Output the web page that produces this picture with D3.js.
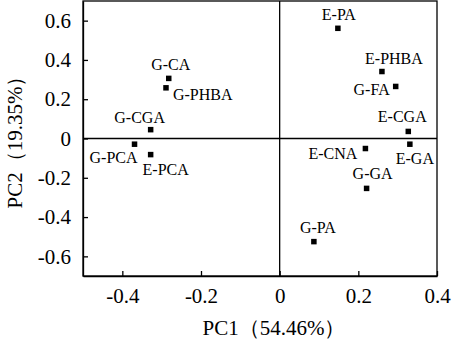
<!DOCTYPE html>
<html>
<head>
<meta charset="utf-8">
<script src="https://cdn.jsdelivr.net/npm/d3@7"></script>
<style>
  body { margin: 0; background: #fff; }
  text { font-family: "Liberation Serif", "Times New Roman", serif; fill: #000; }
</style>
</head>
<body>
<div id="chart"></div>
<script>
var w = 452;
var h = 344;

// data
var names = ["E-PA", "E-PHBA", "G-FA", "E-CGA", "E-GA", "E-CNA", "G-GA", "G-PA",
             "G-CA", "G-PHBA", "G-CGA", "G-PCA", "E-PCA"];
var pc1 = [0.148, 0.260, 0.295, 0.327, 0.331, 0.218, 0.221, 0.087,
           -0.282, -0.289, -0.328, -0.369, -0.328];
var pc2 = [0.561, 0.341, 0.265, 0.036, -0.029, -0.051, -0.254, -0.525,
           0.306, 0.258, 0.045, -0.029, -0.082];
var xTicks = [-0.4, -0.2, 0, 0.2, 0.4];
var yTicks = [-0.6, -0.4, -0.2, 0, 0.2, 0.4, 0.6];
var xTitle = "PC1（54.46%）";
var yTitle = "PC2（19.35%）";

// label placement relative to the point (px)
var labelPos = {
  "E-PA":   [1, -8, "middle"],
  "E-PHBA": [12, -8, "middle"],
  "G-FA":   [-6, 9, "end"],
  "E-CGA":  [-6, -9, "middle"],
  "E-GA":   [5, 20, "middle"],
  "E-CNA":  [-8, 10, "end"],
  "G-GA":   [6, -9, "middle"],
  "G-PA":   [4, -9, "middle"],
  "G-CA":   [2, -8, "middle"],
  "G-PHBA": [7, 12, "start"],
  "G-CGA":  [-11, -7, "middle"],
  "G-PCA":  [3, 19, "end"],
  "E-PCA":  [15, 20, "middle"]
};

var mLeft = 83, mRight = 437, mTop = 1, mBottom = 276;

var xScale = d3.scaleLinear().domain([-0.5, 0.4]).range([mLeft, mRight]);
var yScale = d3.scaleLinear().domain([-0.7, 0.7]).range([mBottom, mTop]);

var fmt = function(d) { return d === 0 ? "0" : d.toFixed(1); };

var svg = d3.select("#chart").append("svg")
  .attr("width", w)
  .attr("height", h);

// frame
svg.append("rect")
  .attr("x", mLeft).attr("y", mTop)
  .attr("width", mRight - mLeft).attr("height", mBottom - mTop)
  .attr("fill", "none").attr("stroke", "#000").attr("stroke-width", 1.3);

// zero lines
svg.append("line")
  .attr("x1", xScale(0)).attr("x2", xScale(0))
  .attr("y1", mTop).attr("y2", mBottom)
  .attr("stroke", "#000").attr("stroke-width", 1.3);
svg.append("line")
  .attr("x1", mLeft).attr("x2", mRight)
  .attr("y1", yScale(0)).attr("y2", yScale(0))
  .attr("stroke", "#000").attr("stroke-width", 1.3);

// axes
var xAxis = d3.axisBottom(xScale).tickValues(xTicks).tickFormat(fmt)
  .tickSizeInner(-5).tickSizeOuter(0).tickPadding(8);
var yAxis = d3.axisLeft(yScale).tickValues(yTicks).tickFormat(fmt)
  .tickSizeInner(-5).tickSizeOuter(0).tickPadding(12);

var gx = svg.append("g")
  .attr("transform", "translate(0," + mBottom + ")")
  .call(xAxis);
var gy = svg.append("g")
  .attr("transform", "translate(" + mLeft + ",0)")
  .call(yAxis);

[gx, gy].forEach(function(g) {
  g.select(".domain").attr("stroke", "#000").attr("stroke-width", 1.3);
  g.selectAll(".tick line").attr("stroke", "#000").attr("stroke-width", 1.3);
  g.selectAll(".tick text")
    .attr("font-family", "'Liberation Serif', serif")
    .attr("font-size", "21px")
    .attr("fill", "#000");
});
gx.selectAll(".tick text").attr("dy", "0.9em");

// axis titles
svg.append("text")
  .attr("x", 274).attr("y", 335)
  .attr("text-anchor", "middle")
  .attr("font-size", "21px")
  .text(xTitle);

svg.append("text")
  .attr("transform", "translate(22,137) rotate(-90)")
  .attr("text-anchor", "middle")
  .attr("font-size", "21px")
  .text(yTitle);

// points
var data = names.map(function(n, i) { return { name: n, x: pc1[i], y: pc2[i] }; });
var ms = 5.5;

svg.selectAll("rect.pt")
  .data(data)
  .enter()
  .append("rect")
  .attr("class", "pt")
  .attr("x", function(d) { return xScale(d.x) - ms / 2; })
  .attr("y", function(d) { return yScale(d.y) - ms / 2; })
  .attr("width", ms)
  .attr("height", ms)
  .attr("fill", "#000");

svg.selectAll("text.lbl")
  .data(data)
  .enter()
  .append("text")
  .attr("class", "lbl")
  .attr("x", function(d) { return xScale(d.x) + labelPos[d.name][0]; })
  .attr("y", function(d) { return yScale(d.y) + labelPos[d.name][1]; })
  .attr("text-anchor", function(d) { return labelPos[d.name][2]; })
  .attr("font-size", "16px")
  .text(function(d) { return d.name; });
</script>
</body>
</html>
